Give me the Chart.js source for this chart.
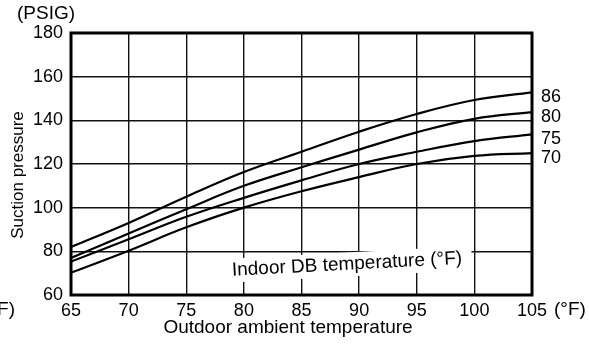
<!DOCTYPE html>
<html>
<head>
<meta charset="utf-8">
<script src="https://cdn.jsdelivr.net/npm/chart.js@4/dist/chart.umd.min.js"></script>
<style>
  html, body { margin: 0; padding: 0; background: #fff; }
  #wrap { width: 589px; height: 344px; position: relative; }
</style>
</head>
<body>
<div id="wrap"><canvas id="c" width="589" height="344"></canvas></div>
<script>
// Outdoor ambient temperature (°F)
const temps = [65, 70, 75, 80, 85, 90, 95, 100, 105];
// Suction pressure (PSIG) per indoor DB temperature (°F)
const p86 = [82, 93, 105, 116.3, 125.6, 134.8, 142.9, 149.3, 152.8];
const p80 = [77, 88.2, 99.3, 110, 118.5, 126.6, 134.5, 140.7, 143.8];
const p75 = [75.3, 85.5, 95.8, 104.5, 112.5, 120, 125.6, 130.5, 133.6];
const p70 = [70.2, 80.3, 91, 100, 107.5, 114, 120, 123.7, 125];
const seriesNames = ['86', '80', '75', '70'];
const seriesValues = [p86, p80, p75, p70];

const FONT = '"Liberation Sans", Arial, Helvetica, sans-serif';
const FS_TICK = 18;
const FS_TEXT = 19;

const datasets = seriesValues.map((vals, i) => ({
  label: seriesNames[i],
  data: temps.map((t, j) => ({ x: t, y: vals[j] })),
  borderColor: '#000',
  borderWidth: 2.2,
  pointRadius: 0,
  fill: false,
  tension: 0.4
}));

const extras = {
  id: 'extras',
  beforeDatasetsDraw(chart) {
    const { ctx } = chart;
    ctx.save();
    ctx.translate(347, 264.5);
    ctx.rotate(-3 * Math.PI / 180);
    ctx.fillStyle = '#fff';
    ctx.fillRect(-125, -12, 250, 24);
    ctx.fillStyle = '#000';
    ctx.font = FS_TEXT + 'px ' + FONT;
    ctx.textAlign = 'center';
    ctx.textBaseline = 'middle';
    ctx.fillText('Indoor DB temperature (°F)', 0, 0);
    ctx.restore();
  },
  afterDraw(chart) {
    const { ctx, chartArea: a, scales } = chart;
    ctx.save();
    ctx.strokeStyle = '#000';
    ctx.lineWidth = 3;
    ctx.strokeRect(a.left, a.top, a.right - a.left, a.bottom - a.top);
    ctx.fillStyle = '#000';
    ctx.textBaseline = 'middle';
    ctx.font = FS_TICK + 'px ' + FONT;
    chart.data.datasets.forEach((ds) => {
      const last = ds.data[ds.data.length - 1];
      const y = scales.y.getPixelForValue(last.y) + 5;
      ctx.textAlign = 'left';
      ctx.fillText(ds.label, a.right + 9, y);
    });
    ctx.font = FS_TEXT + 'px ' + FONT;
    ctx.textAlign = 'center';
    ctx.fillText('(PSIG)', 46, 14);
    ctx.textAlign = 'left';
    ctx.fillText('(°F)', 554, 310);
    ctx.textAlign = 'right';
    ctx.fillText('(°F)', 15, 310);
    ctx.textAlign = 'center';
    ctx.fillText('Outdoor ambient temperature', 288, 328);
    ctx.save();
    ctx.translate(18, 175);
    ctx.rotate(-Math.PI / 2);
    ctx.font = '17px ' + FONT;
    ctx.fillText('Suction pressure', 0, 0);
    ctx.restore();
    ctx.restore();
  }
};

new Chart(document.getElementById('c'), {
  type: 'line',
  data: { datasets },
  options: {
    responsive: false,
    animation: false,
    events: [],
    layout: { padding: { top: 33, right: 57, left: 0, bottom: 0 } },
    plugins: { legend: { display: false }, tooltip: { enabled: false } },
    scales: {
      x: {
        type: 'linear', min: 65, max: 105,
        afterFit(s) { s.height = 49; },
        ticks: { stepSize: 5, color: '#000', padding: 5, font: { family: FONT, size: FS_TICK } },
        grid: { color: '#111', lineWidth: 1.4, drawTicks: false },
        border: { display: false }
      },
      y: {
        min: 60, max: 180,
        afterFit(s) { s.width = 71; },
        ticks: { stepSize: 20, color: '#000', padding: 8, font: { family: FONT, size: FS_TICK } },
        grid: { color: '#111', lineWidth: 1.4, drawTicks: false },
        border: { display: false }
      }
    }
  },
  plugins: [extras]
});
</script>
</body>
</html>
